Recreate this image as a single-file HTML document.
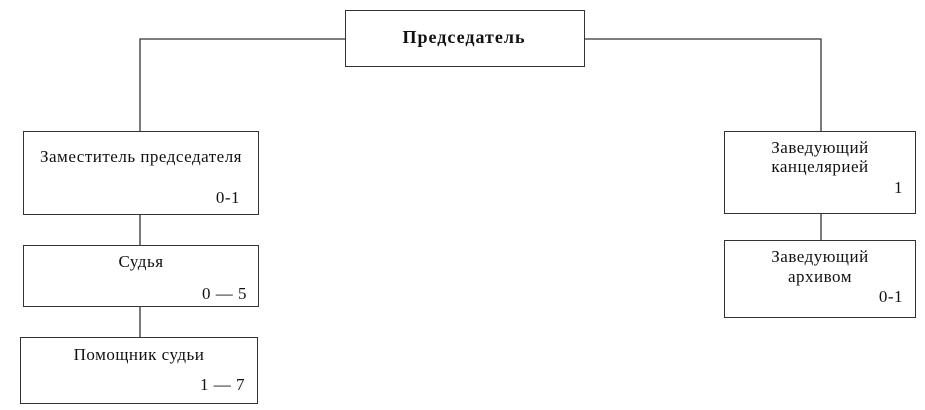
<!DOCTYPE html>
<html><head><meta charset="utf-8"><style>
body{margin:0;width:925px;height:410px;background:#fff;position:relative;overflow:hidden;font-family:"Liberation Serif","DejaVu Serif",serif;color:#111}
.b{position:absolute;border:1.3px solid #333;box-sizing:border-box;background:#fff}
.t{position:absolute;font-size:17px;letter-spacing:0.5px;white-space:nowrap;line-height:1}
.c{text-align:center;transform:translateX(-50%)}
.r{transform:translateX(-100%)}
</style></head><body>
<svg width="925" height="410" style="position:absolute;left:0;top:0">
<g stroke="#333" stroke-width="1.3" fill="none">
<polyline points="345,39 140,39 140,131"/>
<polyline points="584,39 821,39 821,131"/>
<line x1="140" y1="214" x2="140" y2="245"/>
<line x1="140" y1="306" x2="140" y2="337"/>
<line x1="821" y1="213" x2="821" y2="240"/>
</g></svg>
<div class="b" style="left:345px;top:10px;width:240px;height:57px"></div>
<div class="b" style="left:23px;top:131px;width:236px;height:84px"></div>
<div class="b" style="left:23px;top:245px;width:236px;height:62px"></div>
<div class="b" style="left:20px;top:337px;width:238px;height:67px"></div>
<div class="b" style="left:724px;top:131px;width:192px;height:83px"></div>
<div class="b" style="left:724px;top:240px;width:192px;height:78px"></div>
<div class="t c" style="left:464px;top:28px;font-weight:bold;font-size:18px;letter-spacing:1px">Председатель</div>
<div class="t c" style="left:141px;top:148px">Заместитель председателя</div>
<div class="t r" style="left:240px;top:189px">0-1</div>
<div class="t c" style="left:141px;top:253px">Судья</div>
<div class="t r" style="left:247px;top:285px">0 — 5</div>
<div class="t c" style="left:139px;top:346px">Помощник судьи</div>
<div class="t r" style="left:245px;top:376px">1 — 7</div>
<div class="t c" style="left:820px;top:139px">Заведующий</div>
<div class="t c" style="left:820px;top:158px">канцелярией</div>
<div class="t r" style="left:903px;top:179px">1</div>
<div class="t c" style="left:820px;top:248px">Заведующий</div>
<div class="t c" style="left:820px;top:268px">архивом</div>
<div class="t r" style="left:903px;top:288px">0-1</div>
</body></html>
